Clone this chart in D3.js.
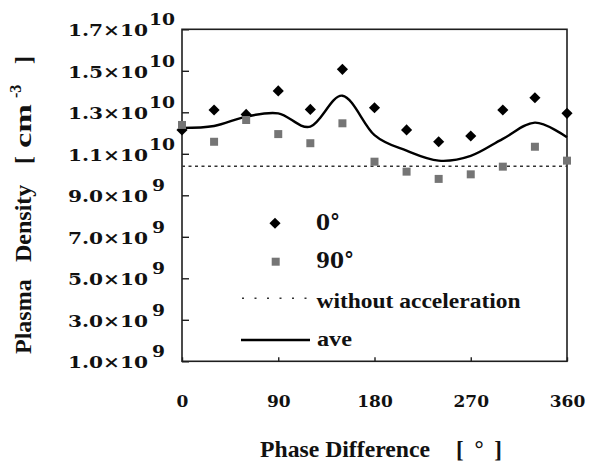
<!DOCTYPE html>
<html>
<head>
<meta charset="utf-8">
<script src="https://cdn.jsdelivr.net/npm/d3@7"></script>
<style>
  body { margin: 0; background: #fff; }
  svg { display: block; }
</style>
</head>
<body>
<svg></svg>
<script>
// data (density in units of 1e9 cm^-3)
var phase = [0, 30, 60, 90, 120, 150, 180, 210, 240, 270, 300, 330, 360];
var deg0  = [12.15, 13.11, 12.90, 14.03, 13.14, 15.07, 13.22, 12.15, 11.58, 11.86, 13.11, 13.70, 12.95];
var deg90 = [12.39, 11.58, 12.63, 11.95, 11.51, 12.47, 10.62, 10.14, 9.79, 10.01, 10.38, 11.34, 10.67];
var ave   = [12.25, 12.34, 12.79, 12.95, 12.31, 13.80, 11.90, 11.15, 10.67, 10.90, 11.72, 12.50, 11.80];
var withoutAcc = 10.4;

var xTicks = [0, 90, 180, 270, 360];
var yTicks = [1, 3, 5, 7, 9, 11, 13, 15, 17];
var yTickBase = ["1.0\u00d710", "3.0\u00d710", "5.0\u00d710", "7.0\u00d710", "9.0\u00d710",
                 "1.1\u00d710", "1.3\u00d710", "1.5\u00d710", "1.7\u00d710"];
var yTickExp  = ["9", "9", "9", "9", "9", "10", "10", "10", "10"];

var width = 593;
var height = 465;
var plotLeft = 182, plotRight = 567, plotTop = 29.3, plotBottom = 361.3;

var svg = d3.select("svg")
      .attr("width", width)
      .attr("height", height);

var xScale = d3.scaleLinear().domain([0, 360]).range([plotLeft, plotRight]);
var yScale = d3.scaleLinear().domain([1, 17]).range([plotBottom, plotTop]);

var ink = "#1e1e1e";

// plot frame
svg.append("rect")
      .attr("x", plotLeft).attr("y", plotTop)
      .attr("width", plotRight - plotLeft).attr("height", plotBottom - plotTop)
      .attr("fill", "none").attr("stroke", ink).attr("stroke-width", 1.6);

// axes with inward ticks
var yAxis = svg.append("g")
      .attr("transform", "translate(" + plotLeft + ",0)")
      .call(d3.axisLeft(yScale).tickValues(yTicks).tickSize(-7).tickFormat(""));
var xAxis = svg.append("g")
      .attr("transform", "translate(0," + plotBottom + ")")
      .call(d3.axisBottom(xScale).tickValues(xTicks).tickSize(-4).tickPadding(34));
[yAxis, xAxis].forEach(function(g) {
      g.select(".domain").remove();
      g.selectAll(".tick line").attr("stroke", ink).attr("stroke-width", 1.4);
});
xAxis.selectAll(".tick text")
      .attr("fill", "#111")
      .style("font-family", "'DejaVu Serif'")
      .style("font-size", "17px")
      .style("font-weight", "bold");

// y tick labels: mantissa x 10 with raised exponent
yTicks.forEach(function(d, i) {
      var ty = yScale(d);
      svg.append("text")
            .attr("x", 68).attr("y", ty + 6.7)
            .attr("textLength", 80).attr("lengthAdjust", "spacingAndGlyphs")
            .style("font-family", "'DejaVu Serif'").style("font-size", "17px")
            .style("font-weight", "bold")
            .attr("fill", "#111")
            .text(yTickBase[i]);
      svg.append("text")
            .attr("x", yTickExp[i].length > 1 ? 149 : 152).attr("y", ty - 4.3)
            .attr("textLength", yTickExp[i].length > 1 ? 26 : 13).attr("lengthAdjust", "spacingAndGlyphs")
            .style("font-family", "'DejaVu Serif'").style("font-size", "17px")
            .style("font-weight", "bold")
            .attr("fill", "#111")
            .text(yTickExp[i]);
});

// axis titles
var yTitle = svg.append("text")
      .attr("transform", "translate(31,0) rotate(-90)")
      .style("font-family", "'Liberation Serif'").style("font-size", "24px")
      .style("font-weight", "bold").attr("fill", "#111");
yTitle.append("tspan").attr("x", -354).text("Plasma");
yTitle.append("tspan").attr("x", -262).text("Density");
yTitle.append("tspan").attr("x", -164).text("[");
yTitle.append("tspan").attr("x", -148).attr("textLength", 44).attr("lengthAdjust", "spacingAndGlyphs").text("cm");
yTitle.append("tspan").attr("x", -98).attr("dy", -10).style("font-size", "16px").text("-3");
yTitle.append("tspan").attr("x", -64).attr("dy", 10).text("]");

svg.append("text")
      .attr("x", 260).attr("y", 457)
      .attr("textLength", 170).attr("lengthAdjust", "spacingAndGlyphs")
      .style("font-family", "'Liberation Serif'").style("font-size", "23px")
      .style("font-weight", "bold").attr("fill", "#111")
      .text("Phase Difference");
svg.append("text")
      .attr("x", 456).attr("y", 457)
      .attr("textLength", 46).attr("lengthAdjust", "spacing")
      .style("font-family", "'Liberation Serif'").style("font-size", "23px")
      .style("font-weight", "bold").attr("fill", "#111")
      .text("[ \u00b0 ]");

// without acceleration (dotted)
svg.append("line")
      .attr("x1", xScale(0)).attr("x2", xScale(360))
      .attr("y1", yScale(withoutAcc)).attr("y2", yScale(withoutAcc))
      .attr("stroke", "#333").attr("stroke-width", 1.6)
      .attr("stroke-dasharray", "3,3.5");

// average curve
var line = d3.line()
      .x(function(d, i) { return xScale(phase[i]); })
      .y(function(d) { return yScale(d); })
      .curve(d3.curveCardinal.tension(0));
svg.append("path")
      .datum(ave)
      .attr("d", line)
      .attr("fill", "none").attr("stroke", "#000").attr("stroke-width", 2.4);

// markers
var diamond = d3.symbol().type(d3.symbolSquare).size(62);
var square = d3.symbol().type(d3.symbolSquare).size(64);

svg.append("g").selectAll("path")
      .data(deg0)
      .enter().append("path")
      .attr("d", diamond)
      .attr("transform", function(d, i) { return "translate(" + xScale(phase[i]) + "," + yScale(d) + ") rotate(45)"; })
      .attr("fill", "#000");

svg.append("g").selectAll("path")
      .data(deg90)
      .enter().append("path")
      .attr("d", square)
      .attr("transform", function(d, i) { return "translate(" + xScale(phase[i]) + "," + yScale(d) + ")"; })
      .attr("fill", "#757575");

// legend
var legendFont = function(sel) {
      return sel.style("font-family", "'Liberation Serif'").style("font-size", "22px")
            .style("font-weight", "bold").attr("fill", "#111");
};
svg.append("path").attr("d", diamond).attr("fill", "#000")
      .attr("transform", "translate(275,223.3) rotate(45)");
svg.append("text").attr("x", 316).attr("y", 229.5)
      .attr("textLength", 24).attr("lengthAdjust", "spacingAndGlyphs")
      .style("font-family", "'DejaVu Serif'").style("font-size", "22px")
      .style("font-weight", "bold").attr("fill", "#111")
      .text("0\u00b0");
svg.append("path").attr("d", square).attr("fill", "#757575")
      .attr("transform", "translate(275.7,261.7)");
svg.append("text").attr("x", 316).attr("y", 268)
      .attr("textLength", 38).attr("lengthAdjust", "spacingAndGlyphs")
      .style("font-family", "'DejaVu Serif'").style("font-size", "22px")
      .style("font-weight", "bold").attr("fill", "#111")
      .text("90\u00b0");
svg.append("line").attr("x1", 242).attr("x2", 307).attr("y1", 298.3).attr("y2", 298.3)
      .attr("stroke", "#333").attr("stroke-width", 1.4).attr("stroke-dasharray", "2,10.5");
svg.append("text").attr("x", 316.5).attr("y", 308.3)
      .attr("textLength", 204).attr("lengthAdjust", "spacingAndGlyphs")
      .call(legendFont)
      .text("without acceleration");
svg.append("line").attr("x1", 241).attr("x2", 310).attr("y1", 340).attr("y2", 340)
      .attr("stroke", "#000").attr("stroke-width", 2.4);
svg.append("text").attr("x", 317).attr("y", 345.5)
      .attr("textLength", 35).attr("lengthAdjust", "spacingAndGlyphs")
      .call(legendFont)
      .text("ave");
</script>
</body>
</html>
